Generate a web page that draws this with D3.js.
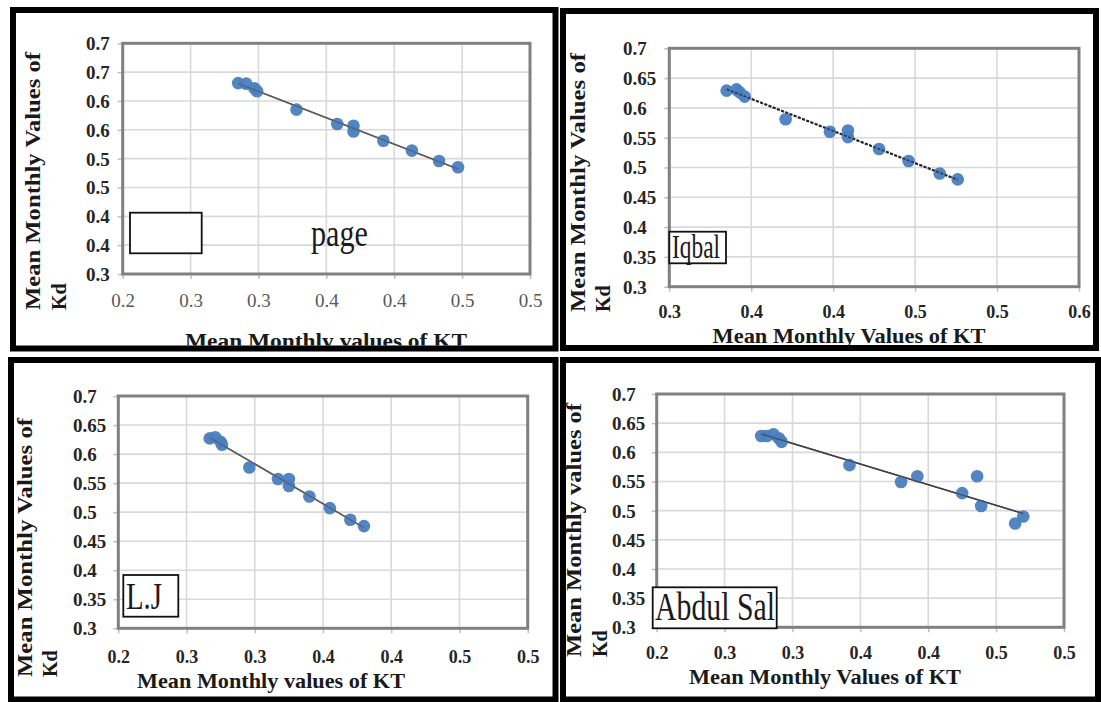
<!DOCTYPE html>
<html>
<head>
<meta charset="utf-8">
<script src="https://cdn.jsdelivr.net/npm/d3@7"></script>
<style>
  html, body { margin: 0; padding: 0; background: #fff; }
  svg { display: block; font-family: "Liberation Serif", "Times New Roman", serif; }
</style>
</head>
<body>
<svg id="chart" width="1101" height="702"></svg>
<script>
// ---------- DATA ----------
const yTickValues = [0.3, 0.35, 0.4, 0.45, 0.5, 0.55, 0.6, 0.65, 0.7];
const yLabelsRounded = ["0.3", "0.4", "0.4", "0.5", "0.5", "0.6", "0.6", "0.7", "0.7"];
const yLabelsFull = ["0.3", "0.35", "0.4", "0.45", "0.5", "0.55", "0.6", "0.65", "0.7"];
const xTicksA = [0.2, 0.25, 0.3, 0.35, 0.4, 0.45, 0.5];
const xLabelsA = ["0.2", "0.3", "0.3", "0.4", "0.4", "0.5", "0.5"];
const xTicksB = [0.3, 0.35, 0.4, 0.45, 0.5, 0.55];
const xLabelsB = ["0.3", "0.4", "0.4", "0.5", "0.5", "0.6"];

const panelNames = ["page", "Iqbal", "L.J", "Abdul Sal"];
const xTitles = ["Mean Monthly values of  KT", "Mean Monthly Values of  KT", "Mean Monthly values of  KT", "Mean Monthly Values of  KT"];
const yTitles = ["Mean Monthly Values of", "Mean Monthly Values of", "Mean Monthly Values of", "Mean Monthly values of"];
const yTitleLine2 = "Kd";

const kt1 = [0.285, 0.291, 0.297, 0.299, 0.328, 0.358, 0.370, 0.370, 0.392, 0.413, 0.433, 0.447];
const kd1 = [0.631, 0.630, 0.622, 0.617, 0.585, 0.560, 0.557, 0.547, 0.531, 0.514, 0.496, 0.485];

const kt2 = [0.335, 0.341, 0.343, 0.346, 0.371, 0.398, 0.409, 0.409, 0.428, 0.446, 0.465, 0.476];
const kd2 = [0.629, 0.631, 0.626, 0.619, 0.581, 0.560, 0.562, 0.551, 0.531, 0.511, 0.490, 0.480];

const kt3 = [0.267, 0.271, 0.275, 0.276, 0.296, 0.317, 0.325, 0.325, 0.340, 0.355, 0.370, 0.380];
const kd3 = [0.627, 0.629, 0.621, 0.616, 0.577, 0.557, 0.557, 0.545, 0.527, 0.507, 0.487, 0.476];

const kt4 = [0.277, 0.281, 0.286, 0.290, 0.292, 0.342, 0.380, 0.392, 0.425, 0.436, 0.439, 0.464, 0.470];
const kd4 = [0.628, 0.628, 0.631, 0.624, 0.618, 0.578, 0.549, 0.559, 0.530, 0.559, 0.508, 0.478, 0.490];

// ---------- LAYOUT ----------
const layout = [
  { frame: [13, 10, 555.5, 348.5], plot: [122.7, 43.3, 530, 274],
    xTicks: xTicksA, xLabels: xLabelsA, yLabels: yLabelsRounded, kt: kt1, kd: kd1,
    yLabelX: 86, xLabelBase: 307, xLabelBold: false,
    xTitleX: 326, xTitleBase: 348, xTitleLen: 282, clipTitle: true,
    yT1X: 40, yT2X: 66, yTBottom: 310, yTLen: 258,
    box: [130, 212.7, 71.7, 40.6],
    nameX: 311, nameBase: 246, nameLen: 57, nameSize: 38,
    trend: { color: "#5a5a5a", width: 1.6, dash: null } },
  { frame: [563, 11, 1096, 348], plot: [669.3, 48.3, 1079, 286.7],
    xTicks: xTicksB, xLabels: xLabelsB, yLabels: yLabelsFull, kt: kt2, kd: kd2,
    yLabelX: 623, xLabelBase: 318, xLabelBold: true,
    xTitleX: 849, xTitleBase: 343, xTitleLen: 273, clipTitle: false,
    yT1X: 585, yT2X: 610, yTBottom: 312, yTLen: 259,
    box: [669.3, 231.7, 56.7, 31.6],
    nameX: 672, nameBase: 257.5, nameLen: 48, nameSize: 33,
    trend: { color: "#2b2b2b", width: 2.2, dash: "3,1.5" } },
  { frame: [11, 360, 555.5, 699.5], plot: [118.3, 396, 527.7, 628.3],
    xTicks: xTicksA, xLabels: xLabelsA, yLabels: yLabelsFull, kt: kt3, kd: kd3,
    yLabelX: 73, xLabelBase: 663, xLabelBold: true,
    xTitleX: 271, xTitleBase: 688, xTitleLen: 268, clipTitle: false,
    yT1X: 32, yT2X: 57, yTBottom: 677, yTLen: 259,
    box: [123.3, 575, 55, 41.7],
    nameX: 126, nameBase: 609, nameLen: 36, nameSize: 37,
    trend: { color: "#5a5a5a", width: 1.6, dash: null } },
  { frame: [563, 360, 1098, 699.5], plot: [656.7, 394, 1064, 627.3],
    xTicks: xTicksA, xLabels: xLabelsA, yLabels: yLabelsFull, kt: kt4, kd: kd4,
    yLabelX: 612, xLabelBase: 659, xLabelBold: true,
    xTitleX: 825, xTitleBase: 684, xTitleLen: 272, clipTitle: false,
    yT1X: 581, yT2X: 607, yTBottom: 657, yTLen: 254,
    box: [652.7, 587.3, 124, 41],
    nameX: 655, nameBase: 620, nameLen: 120, nameSize: 40,
    trend: { color: "#404040", width: 1.6, dash: null } }
];

const svg = d3.select("#chart");
const defs = svg.append("defs");

function regression(xs, ys) {
  const n = xs.length;
  const mx = d3.mean(xs), my = d3.mean(ys);
  let sxy = 0, sxx = 0;
  for (let i = 0; i < n; i++) { sxy += (xs[i] - mx) * (ys[i] - my); sxx += (xs[i] - mx) ** 2; }
  const m = sxy / sxx;
  return { m, b: my - m * mx };
}

layout.forEach((p, idx) => {
  const [l, t, r, b] = p.plot;
  const g = svg.append("g");
  const x = d3.scaleLinear().domain([p.xTicks[0], p.xTicks[p.xTicks.length - 1]]).range([l, r]);
  const y = d3.scaleLinear().domain([0.3, 0.7]).range([b, t]);

  // gridlines
  g.append("g").selectAll("line").data(yTickValues).join("line")
    .attr("x1", l).attr("x2", r).attr("y1", d => y(d)).attr("y2", d => y(d))
    .attr("stroke", "#d9d9d9").attr("stroke-width", 1.6);
  g.append("g").selectAll("line").data(p.xTicks).join("line")
    .attr("x1", d => x(d)).attr("x2", d => x(d)).attr("y1", t).attr("y2", b)
    .attr("stroke", "#d9d9d9").attr("stroke-width", 1.6);

  // y axis
  const ya = g.append("g").attr("transform", `translate(${l},0)`)
    .call(d3.axisLeft(y).tickValues(yTickValues).tickFormat((d, i) => p.yLabels[i]).tickSize(5).tickSizeOuter(0));
  ya.select(".domain").remove();
  ya.selectAll(".tick line").attr("stroke", "#bfbfbf").attr("stroke-width", 1.5);
  ya.selectAll(".tick text")
    .attr("x", p.yLabelX - l).attr("text-anchor", "start").attr("dy", "0.34em")
    .attr("font-family", "Liberation Serif").attr("font-size", 19).attr("font-weight", "bold")
    .attr("fill", "#262626");

  // x axis
  const xa = g.append("g").attr("transform", `translate(0,${b})`)
    .call(d3.axisBottom(x).tickValues(p.xTicks).tickFormat((d, i) => p.xLabels[i]).tickSize(5).tickSizeOuter(0));
  xa.select(".domain").remove();
  xa.selectAll(".tick line").attr("stroke", "#bfbfbf").attr("stroke-width", 1.5);
  xa.selectAll(".tick text")
    .attr("y", p.xLabelBase - b).attr("dy", 0)
    .attr("font-family", "Liberation Serif").attr("font-size", p.xLabelBold ? 18 : 19)
    .attr("font-weight", p.xLabelBold ? "bold" : "normal")
    .attr("fill", p.xLabelBold ? "#262626" : "#595959");

  // plot border
  g.append("rect").attr("x", l).attr("y", t).attr("width", r - l).attr("height", b - t)
    .attr("fill", "none").attr("stroke", "#808080").attr("stroke-width", 3);

  // trend line
  const reg = regression(p.kt, p.kd);
  const xmin = d3.min(p.kt), xmax = d3.max(p.kt);
  g.append("line")
    .attr("x1", x(xmin)).attr("y1", y(reg.m * xmin + reg.b))
    .attr("x2", x(xmax)).attr("y2", y(reg.m * xmax + reg.b))
    .attr("stroke", p.trend.color).attr("stroke-width", p.trend.width)
    .attr("stroke-dasharray", p.trend.dash);

  // points
  g.append("g").selectAll("circle").data(p.kt.map((v, i) => [v, p.kd[i]])).join("circle")
    .attr("cx", d => x(d[0])).attr("cy", d => y(d[1])).attr("r", 6.3)
    .attr("fill", "#4a7ec0").attr("fill-opacity", 0.95);
  // trendline drawn above markers too
  g.append("line")
    .attr("x1", x(xmin)).attr("y1", y(reg.m * xmin + reg.b))
    .attr("x2", x(xmax)).attr("y2", y(reg.m * xmax + reg.b))
    .attr("stroke", p.trend.color).attr("stroke-width", p.trend.width * 0.7)
    .attr("stroke-opacity", 0.8)
    .attr("stroke-dasharray", p.trend.dash);

  // annotation box
  g.append("rect").attr("x", p.box[0]).attr("y", p.box[1]).attr("width", p.box[2]).attr("height", p.box[3])
    .attr("fill", "#fff").attr("stroke", "#111").attr("stroke-width", 1.8);
  g.append("text").attr("x", p.nameX).attr("y", p.nameBase)
    .attr("font-family", "Liberation Serif").attr("font-size", p.nameSize)
    .attr("textLength", p.nameLen).attr("lengthAdjust", "spacingAndGlyphs")
    .attr("fill", "#1a1a1a")
    .text(panelNames[idx]);

  // x title
  let titleParent = g;
  if (p.clipTitle) {
    const cid = "clip" + idx;
    defs.append("clipPath").attr("id", cid).append("rect")
      .attr("x", p.frame[0]).attr("y", p.frame[1]).attr("width", p.frame[2] - p.frame[0]).attr("height", p.frame[3] - p.frame[1] - 3);
    titleParent = g.append("g").attr("clip-path", `url(#${cid})`);
  }
  titleParent.append("text").attr("x", p.xTitleX).attr("y", p.xTitleBase)
    .attr("text-anchor", "middle")
    .attr("font-family", "Liberation Serif").attr("font-size", 22).attr("font-weight", "bold")
    .attr("textLength", p.xTitleLen).attr("lengthAdjust", "spacingAndGlyphs")
    .attr("fill", "#1a1a1a")
    .text(xTitles[idx]);

  // y title (two lines, rotated, start-aligned at the bottom)
  g.append("text")
    .attr("transform", `translate(${p.yT1X},${p.yTBottom}) rotate(-90)`)
    .attr("font-family", "Liberation Serif").attr("font-size", 20).attr("font-weight", "bold")
    .attr("textLength", p.yTLen).attr("lengthAdjust", "spacingAndGlyphs")
    .attr("fill", "#1a1a1a")
    .text(yTitles[idx]);
  g.append("text")
    .attr("transform", `translate(${p.yT2X},${p.yTBottom}) rotate(-90)`)
    .attr("font-family", "Liberation Serif").attr("font-size", 20).attr("font-weight", "bold")
    .attr("fill", "#1a1a1a")
    .text(yTitleLine2);

  // panel frame
  const [fx0, fy0, fx1, fy1] = p.frame;
  svg.append("rect").attr("x", fx0).attr("y", fy0).attr("width", fx1 - fx0).attr("height", fy1 - fy0)
    .attr("fill", "none").attr("stroke", "#000").attr("stroke-width", 6);
});
</script>
</body>
</html>
